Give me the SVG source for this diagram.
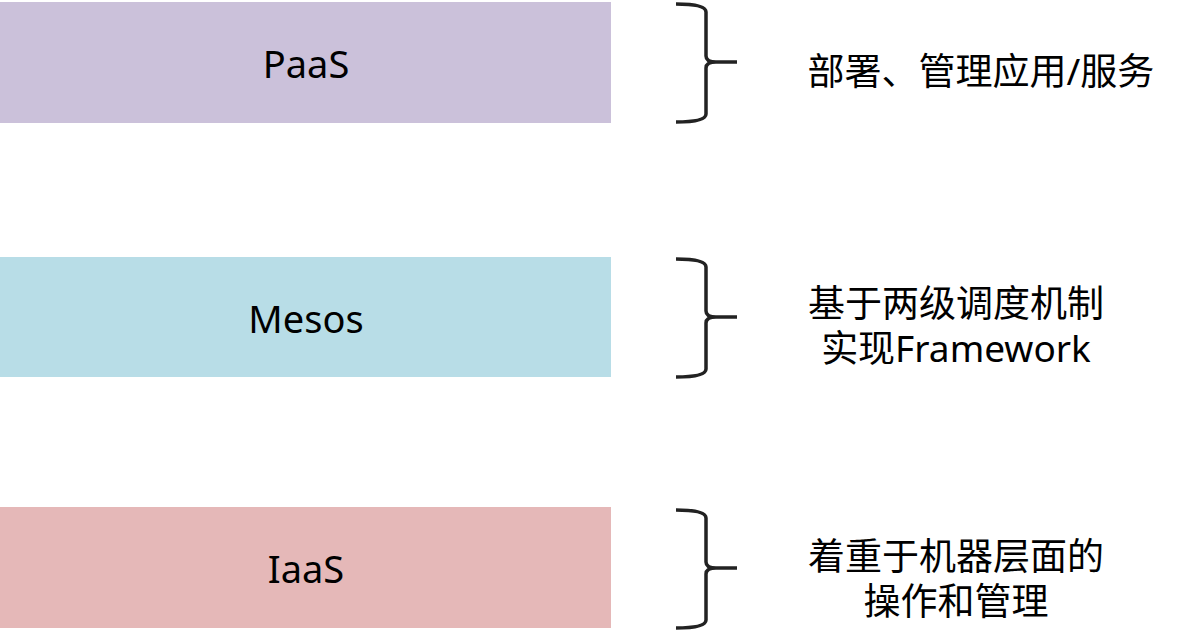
<svg xmlns="http://www.w3.org/2000/svg" width="1187" height="634" viewBox="0 0 1187 634">
<style>
.lbl{font-family:"Noto Sans","Noto Sans CJK SC",sans-serif;font-size:38px;fill:#000;text-anchor:middle}
.desc{font-family:"Noto Sans","Noto Sans CJK SC",sans-serif;font-size:37px;fill:#000;text-anchor:middle}
.brace{fill:none;stroke:#222;stroke-width:3.5;stroke-linejoin:round;stroke-linecap:butt}
</style>
<rect width="1187" height="634" fill="#fff"/>
<g id="paas">
<rect x="0" y="2" width="611" height="121" fill="#CBC1DA"/>
<text class="lbl" x="306" y="78">PaaS</text>
</g>
<g id="mesos">
<rect x="0" y="257" width="611" height="120" fill="#B8DDE7"/>
<text class="lbl" x="306" y="333">Mesos</text>
</g>
<g id="iaas">
<rect x="0" y="507" width="611" height="121" fill="#E5B8B8"/>
<text class="lbl" x="306" y="583">IaaS</text>
</g>
<g id="paas-desc">
<path class="brace" d="M676 4 Q706 4 706 12 L706 56 Q706 62 716 62 L737 62 M716 62 Q706 62 706 68 L706 114 Q706 122 676 122"/>
<text class="desc" x="981" y="85">部署、管理应用/服务</text>
</g>
<g id="mesos-desc">
<path class="brace" d="M676 259 Q706 259 706 267 L706 311 Q706 317 716 317 L737 317 M716 317 Q706 317 706 323 L706 369 Q706 377 676 377"/>
<text class="desc"><tspan x="956" y="317">基于两级调度机制</tspan><tspan x="956" y="362">实现Framework</tspan></text>
</g>
<g id="iaas-desc">
<path class="brace" d="M676 510 Q706 510 706 518 L706 562 Q706 568 716 568 L737 568 M716 568 Q706 568 706 574 L706 620 Q706 628 676 628"/>
<text class="desc"><tspan x="956" y="570">着重于机器层面的</tspan><tspan x="956" y="615">操作和管理</tspan></text>
</g>
<g id="connectors"/>
</svg>
